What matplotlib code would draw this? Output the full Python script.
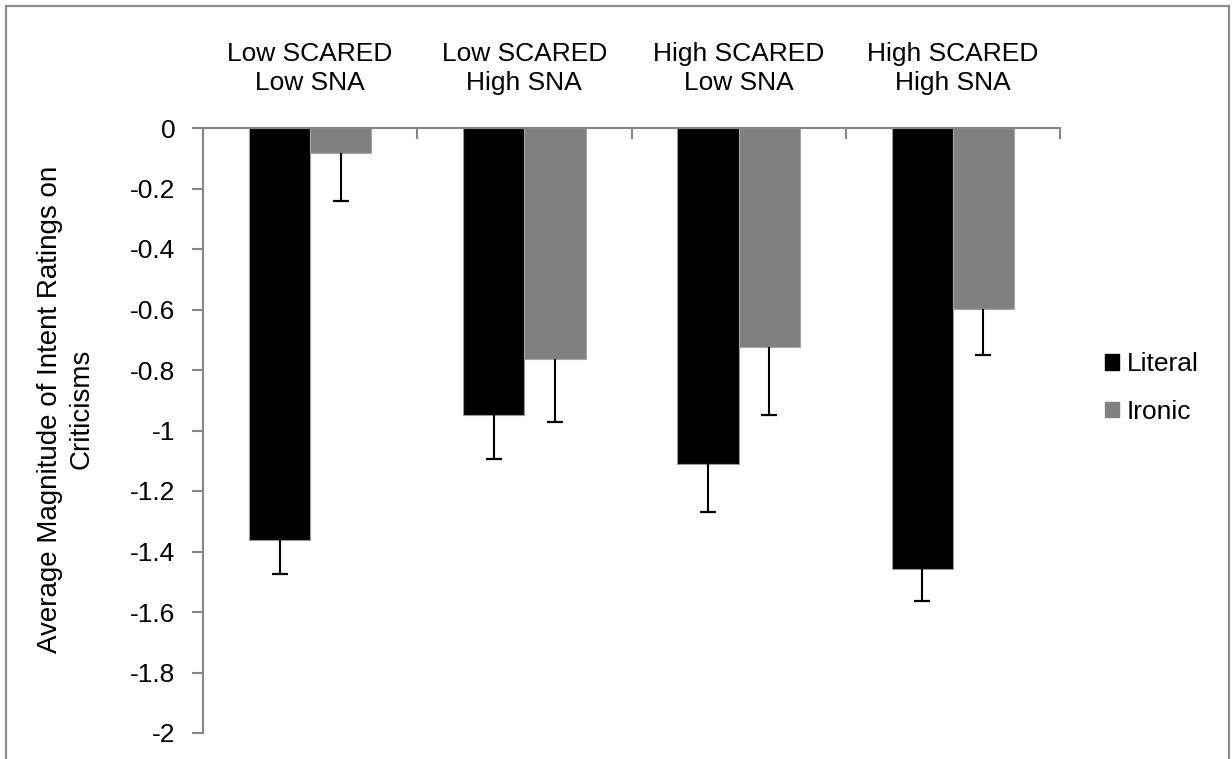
import matplotlib
matplotlib.use('Agg')
import matplotlib.pyplot as plt
import numpy as np
from matplotlib.patches import Rectangle, Patch

plt.rcParams['font.family'] = ['Liberation Sans', 'DejaVu Sans']

# Group labels and mean intent ratings with standard errors
groups = ['Low SCARED\nLow SNA', 'Low SCARED\nHigh SNA',
          'High SCARED\nLow SNA', 'High SCARED\nHigh SNA']
literal = [-1.363, -0.948, -1.110, -1.457]
literal_err = [0.112, 0.146, 0.160, 0.105]
ironic = [-0.083, -0.763, -0.723, -0.599]
ironic_err = [0.157, 0.209, 0.226, 0.152]
series_names = ['Literal', 'Ironic']
y_ticks = [0, -0.2, -0.4, -0.6, -0.8, -1, -1.2, -1.4, -1.6, -1.8, -2]

W, H = 1232, 759
fig = plt.figure(figsize=(W / 100, H / 100), dpi=100)
ax = fig.add_axes([203 / W, 1 - 733 / H, 857 / W, 605 / H])

axis_grey = '#868686'
fs = 19
bw = 1 / 3.5  # Excel-style gap width of 150%
x = np.arange(len(groups))

ax.bar(x - bw / 2, literal, bw, color='black', edgecolor='#999999', linewidth=0.8, zorder=2)
ax.bar(x + bw / 2, ironic, bw, color='#808080', edgecolor='#a6a6a6', linewidth=0.8, zorder=2)

# one-sided (downward) error bars
for xs, vals, errs in [(x - bw / 2, literal, literal_err), (x + bw / 2, ironic, ironic_err)]:
    vals = np.array(vals)
    errs = np.array(errs)
    ax.errorbar(xs, vals, yerr=[errs, np.zeros_like(errs)], fmt='none',
                ecolor='black', elinewidth=1.5, capsize=0, zorder=3)
    ax.plot(xs, vals - errs, ls='none', marker='_', markersize=12,
            markeredgewidth=1.6, color='black', zorder=3)

ax.set_xlim(-0.5, len(groups) - 0.5)
ax.set_ylim(-2, 0)

# category axis sits at zero, along the top
ax.xaxis.tick_top()
ax.set_xticks(np.arange(len(groups) + 1) - 0.5)
ax.set_xticklabels([])
ax.set_xticks(x, minor=True)
ax.set_xticklabels(groups, minor=True, fontsize=fs, linespacing=1.25)
ax.tick_params(axis='x', which='major', direction='in', length=8, width=1.5, color=axis_grey)
ax.tick_params(axis='x', which='minor', length=0, pad=24)

ax.set_yticks(y_ticks)
ax.set_yticklabels([f'{v:g}' for v in y_ticks], fontsize=fs)
ax.tick_params(axis='y', direction='out', length=8, width=1.5, color=axis_grey, pad=12)

for side in ['bottom', 'right']:
    ax.spines[side].set_visible(False)
for side in ['top', 'left']:
    ax.spines[side].set_color(axis_grey)
    ax.spines[side].set_linewidth(1.5)

fig.text(66 / W, 1 - 409 / H, 'Average Magnitude of Intent Ratings on\nCriticisms',
         rotation=90, ha='center', va='center', multialignment='center', fontsize=20,
         linespacing=1.3)

handles = [Patch(facecolor='black', edgecolor='black'),
           Patch(facecolor='#808080', edgecolor='#808080')]
fig.legend(handles, series_names, loc='center left', bbox_to_anchor=(1092 / W, 1 - 388 / H),
           frameon=False, fontsize=fs, handlelength=0.52, handleheight=0.52,
           handletextpad=0.3, labelspacing=0.88, borderpad=0)

# chart area border
fig.patches.append(Rectangle((6 / W, -0.02), (1229 - 6) / W, 1.02 - 6 / H,
                             transform=fig.transFigure, fill=False,
                             edgecolor='#8c8c8c', linewidth=1.6))

fig.savefig('out.png', dpi=100)
